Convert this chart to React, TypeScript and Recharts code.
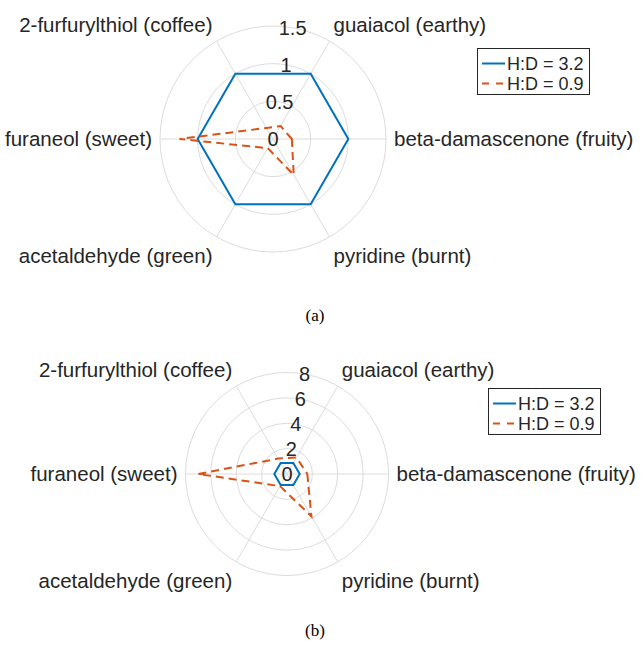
import React from 'react';
import { RadarChart, Radar, PolarGrid, PolarAngleAxis, PolarRadiusAxis, Legend } from 'recharts';

// categories, clockwise from the right (beta-damascenone at 0 deg)
const aromas = [
  'beta-damascenone (fruity)',
  'pyridine (burnt)',
  'acetaldehyde (green)',
  'furaneol (sweet)',
  '2-furfurylthiol (coffee)',
  'guaiacol (earthy)',
];
const seriesNames = ['H:D = 3.2', 'H:D = 0.9'];

const panelA_hd32 = [1, 1, 1, 1, 1, 1];
const panelA_hd09 = [0.25, 0.55, 0.14, 1.24, 0.17, 0.2];
const panelA_rTicks = [0, 0.5, 1, 1.5];

const panelB_hd32 = [1, 1, 1, 1, 1, 1];
const panelB_hd09 = [1.6, 3.85, 1.1, 7.0, 1.4, 1.5];
const panelB_rTicks = [0, 2, 4, 6, 8];

const BLUE = '#0072BD';
const ORANGE = '#D95319';
const TEXT = '#262626';
const FONT = '"Liberation Sans", Arial, sans-serif';

const buildRows = (hd32: number[], hd09: number[]) =>
  aromas.map((aroma, i) => ({ aroma, hd32: hd32[i], hd09: hd09[i] }));

const AngleTick = (props: any) => {
  const { x, y, payload, textAnchor } = props;
  const a = ((payload.coordinate % 360) + 360) % 360;
  let dy = 7;
  if (a > 10 && a < 170) dy = -2;
  else if (a > 190 && a < 350) dy = 19;
  return (
    <text x={x} y={y} dy={dy} textAnchor={textAnchor} fontSize={20.5} fill={TEXT} fontFamily={FONT}>
      {payload.value}
    </text>
  );
};

const RadiusTick = (props: any) => {
  const { x, y, payload } = props;
  return (
    <text x={x} y={y} dy={7} textAnchor="middle" fontSize={20} fill={TEXT} fontFamily={FONT}>
      {payload.value}
    </text>
  );
};

const LegendBox = () => (
  <svg width={113} height={47} style={{ display: 'block' }}>
    <rect x={0.5} y={0.5} width={112} height={46} fill="#fff" stroke={TEXT} strokeWidth={1} />
    <line x1={5} y1={15.5} x2={28} y2={15.5} stroke={BLUE} strokeWidth={2} />
    <line x1={5} y1={35.5} x2={28} y2={35.5} stroke={ORANGE} strokeWidth={2} strokeDasharray="7 7" />
    <text x={30} y={15.5} dy={6.5} fontSize={18} fill={TEXT} fontFamily={FONT}>{seriesNames[0]}</text>
    <text x={30} y={35.5} dy={6.5} fontSize={18} fill={TEXT} fontFamily={FONT}>{seriesNames[1]}</text>
  </svg>
);

type PanelProps = {
  hd32: number[];
  hd09: number[];
  rTicks: number[];
  cx: number;
  cy: number;
  radius: number;
  legendLeft: number;
  legendTop: number;
};

const Panel = ({ hd32, hd09, rTicks, cx, cy, radius, legendLeft, legendTop }: PanelProps) => (
  <RadarChart
    width={644}
    height={300}
    data={buildRows(hd32, hd09)}
    cx={cx}
    cy={cy}
    outerRadius={radius}
    startAngle={0}
    endAngle={-360}
  >
    <PolarGrid gridType="circle" stroke="#dcdcdc" strokeWidth={1} />
    <PolarAngleAxis dataKey="aroma" tick={<AngleTick />} tickSize={8} tickLine={false} axisLine={false} />
    <PolarRadiusAxis
      angle={80}
      type="number"
      domain={[0, rTicks[rTicks.length - 1]]}
      ticks={rTicks}
      allowDecimals
      allowDataOverflow
      tickCount={rTicks.length}
      axisLine={false}
      tickLine={false}
      tick={<RadiusTick />}
    />
    <Radar
      name={seriesNames[0]}
      dataKey="hd32"
      stroke={BLUE}
      strokeWidth={2}
      fill="none"
      fillOpacity={0}
      dot={false}
      isAnimationActive={false}
    />
    <Radar
      name={seriesNames[1]}
      dataKey="hd09"
      stroke={ORANGE}
      strokeWidth={2}
      strokeDasharray="8 5"
      fill="none"
      fillOpacity={0}
      dot={false}
      isAnimationActive={false}
    />
    <Legend
      content={() => <LegendBox />}
      wrapperStyle={{ position: 'absolute', left: legendLeft, top: legendTop, width: 113, height: 47 }}
    />
  </RadarChart>
);

const captionStyle: React.CSSProperties = {
  position: 'absolute',
  left: 290,
  width: 50,
  textAlign: 'center',
  fontFamily: '"Liberation Serif", "Times New Roman", serif',
  fontSize: 17,
  color: '#000',
};

export default function App() {
  return (
    <div style={{ position: 'absolute', left: 0, top: 0, width: 644, height: 650, background: '#fff' }}>
      <div style={{ position: 'absolute', left: 0, top: 0 }}>
        <Panel hd32={panelA_hd32} hd09={panelA_hd09} rTicks={panelA_rTicks} cx={273} cy={139} radius={113} legendLeft={477} legendTop={48} />
      </div>
      <div style={{ ...captionStyle, top: 306 }}>(a)</div>
      <div style={{ position: 'absolute', left: 0, top: 330 }}>
        <Panel hd32={panelB_hd32} hd09={panelB_hd09} rTicks={panelB_rTicks} cx={287} cy={144} radius={101.5} legendLeft={488} legendTop={58} />
      </div>
      <div style={{ ...captionStyle, top: 621 }}>(b)</div>
    </div>
  );
}
